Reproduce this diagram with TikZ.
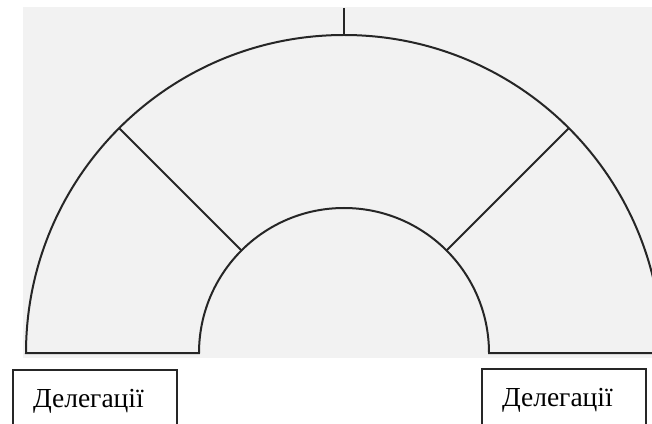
\documentclass[tikz,border=0pt]{standalone}
\usepackage{fontspec}
\setmainfont{Liberation Serif}
\usetikzlibrary{calc}
\begin{document}
\begin{tikzpicture}[x=1pt,y=1pt,
  archline/.style={line width=2pt, line join=miter, draw=black!85},
  delbox/.style={draw=black!85, line width=1.5pt, minimum width=164pt, minimum height=62pt,
    text width=124pt, inner xsep=20pt, align=left, anchor=north,
    text height=19pt, text depth=6pt, font=\fontsize{27.5}{32}\selectfont}]
\useasboundingbox (0,0) rectangle (652,423);
\clip (0,0) rectangle (652,423);
\fill[black!5] (23,65) rectangle (652,416);
\coordinate (c) at (344,70);
\coordinate (top) at (344,415);
\coordinate (apex) at (344,388);
\draw[archline] (26,70) arc[start angle=180, end angle=0, radius=318]
  -- (489,70) arc[start angle=0, end angle=180, radius=145] -- cycle;
\draw[archline] ($(c)+(135:145)$) coordinate (li) -- ($(c)+(135:318)$) coordinate (lo);
\draw[archline] ($(c)+(45:145)$) coordinate (ri) -- ($(c)+(45:318)$) coordinate (ro);
\draw[line width=1.5pt, draw=black!85] (top) -- (apex);
\node[delbox] (dl) at (95,54) {Делегації};
\node[delbox] (dr) at (564,55) {Делегації};
\end{tikzpicture}
\end{document}
